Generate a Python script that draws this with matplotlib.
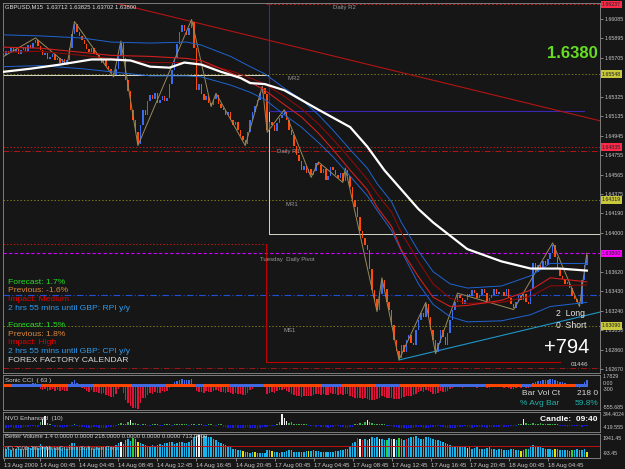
import numpy as np
import matplotlib
matplotlib.use("Agg")
import matplotlib.pyplot as plt
import matplotlib.transforms as mtrans

plt.rcParams['font.family'] = ['Liberation Sans', 'DejaVu Sans']

W, H = 625, 469
BG = '#161616'

# ---- price data (pips above 1.6000), one value per M15 bar ----
close_pips = [
    573, 577, 575, 580, 576, 579, 574, 578, 581, 577,
    583, 580, 585, 588, 582, 578, 573, 575, 569, 571,
    574, 568, 570, 566, 569, 565, 568, 580, 594, 604,
    596, 592, 588, 584, 579, 576, 580, 574, 573, 570,
    566, 568, 563, 560, 556, 554, 560, 572, 585, 570,
    549, 538, 520, 510, 498, 487, 505, 520, 515, 528,
    534, 530, 536, 527, 529, 533, 528, 531, 545, 559,
    570, 584, 596, 603, 597, 593, 600, 606, 580, 539,
    545, 535, 529, 533, 527, 525, 530, 534, 526, 522,
    520, 515, 518, 510, 505, 508, 500, 494, 490, 487,
    498, 510, 518, 524, 529, 536, 541, 535, 500, 508,
    505, 499, 507, 512, 515, 518, 510, 500, 495, 485,
    476, 470, 461, 465, 458, 462, 456, 460, 468, 466,
    458, 462, 451, 455, 464, 461, 456, 453, 458, 450,
    461, 455, 445, 432, 425, 415, 402, 395, 388, 383,
    365, 344, 335, 325, 340, 354, 345, 332, 325, 310,
    295, 285, 278, 290, 284, 295, 300, 292, 290, 305,
    315, 322, 318, 330, 318, 305, 295, 284, 292, 305,
    298, 290, 302, 315, 325, 332, 339, 336, 330, 334,
    340, 338, 344, 341, 336, 339, 345, 341, 333, 336,
    339, 345, 340, 342, 342, 338, 345, 336, 330, 327,
    332, 338, 334, 340, 332, 330, 345, 370, 362, 368,
    365, 372, 368, 374, 380, 388, 376, 365, 358, 355,
    350, 352, 346, 338, 335, 332, 330, 354, 368, 378,
]
first_open = 570

# moving averages read at a few bars
white_i = [0, 11, 23, 36, 44, 52, 60, 68, 74, 81, 89, 97, 101, 107, 115, 129, 142, 149,
           156, 163, 170, 176, 183, 190, 197, 204, 216, 228, 239]
white_p = [557, 560, 564, 569, 569, 568, 562, 561, 566, 564, 557, 551, 546, 545, 539, 520, 503, 484,
           461, 442, 423, 410, 397, 384, 378, 372, 365, 365, 363]
ma_i = [0, 15, 32, 44, 60, 75, 81, 93, 101, 107, 115, 122, 129, 135, 142, 149, 153, 159, 163,
        170, 176, 183, 190, 204, 216, 224, 239]
red_p = [581, 580, 576, 573, 572, 570, 568, 556, 547, 539, 525, 513, 497, 481, 461, 442, 425, 406, 383,
         357, 337, 328, 329, 334, 344, 356, 352]
darkred_p = [576, 577, 573, 570, 566, 566, 565, 558, 551, 545, 533, 521, 506, 491, 472, 452, 438, 420, 400,
             372, 350, 336, 331, 332, 338, 348, 349]
blue_up_p = [593, 592, 590, 586, 585, 586, 583, 572, 562, 555, 541, 530, 515, 500, 481, 463, 448, 430, 410,
             382, 362, 350, 346, 348, 358, 370, 370]
blue_lo_p = [562, 563, 560, 557, 553, 553, 552, 544, 537, 530, 515, 503, 488, 474, 455, 436, 422, 402, 382,
             350, 330, 318, 313, 314, 320, 328, 332]
zz_i = [0, 13, 26, 29, 45, 48, 55, 77, 85, 87, 99, 106, 108, 115, 126, 129, 139, 140, 153, 155,
        162, 173, 177, 186, 209, 225, 236, 239]
zz_p = [572, 590, 564, 606, 552, 587, 485, 608, 523, 536, 485, 543, 498, 520, 454, 469, 449, 463, 323, 356,
        276, 332, 282, 341, 325, 390, 328, 380]

# levels
trend_red = ([44, 244.7], [1.66251, 1.65090])
trend_teal = ([162, 244.7], [1.62758, 1.63227])
price_ticks = ["1.66085", "1.65895", "1.65705", "1.65325", "1.65135", "1.64945", "1.64755",
               "1.64565", "1.64375", "1.64190", "1.64000", "1.63620", "1.63430", "1.63240",
               "1.63050", "1.62860", "1.62670"]
price_tags = [(1.66230, "1.66237", '#ff2a4a'), (1.65548, "1.65548", '#c8c83c'),
              (1.64835, "1.64835", '#ff2a4a'), (1.64319, "1.64319", '#c8c83c'),
              (1.63800, "1.63800", '#ff00ff'), (1.63090, "1.63090", '#c8c83c')]

# ---- indicator data ----
cci = [
    -60, -40, -20, 30, -30, -50, -20, 40, 20, -30,
    20, 40, 60, 50, -40, -80, -120, -100, -140, -120,
    -90, -130, -110, -140, -120, -150, -130, -40, 80, 120,
    60, 20, -60, -100, -150, -170, -120, -160, -170, -190,
    -210, -190, -230, -260, -280, -290, -200, -80, 30, -180,
    -350, -420, -500, -540, -560, -580, -420, -300, -320, -230,
    -180, -200, -160, -190, -180, -150, -170, -150, -60, 40,
    80, 110, 140, 160, 130, 120, 140, 150, 40, -150,
    -160, -170, -180, -150, -160, -170, -140, -120, -150, -160,
    -170, -180, -170, -190, -200, -190, -210, -220, -230, -240,
    -180, -120, -80, -40, -20, 10, 30, 10, -200, -180,
    -170, -190, -150, -120, -110, -100, -130, -170, -200, -240,
    -260, -270, -290, -260, -270, -250, -260, -240, -200, -210,
    -230, -210, -240, -230, -190, -200, -220, -230, -210, -240,
    -200, -220, -260, -290, -300, -310, -320, -330, -320, -330,
    -350, -360, -350, -340, -300, -270, -280, -300, -310, -320,
    -330, -340, -340, -300, -290, -260, -250, -260, -240, -200,
    -170, -150, -160, -120, -140, -170, -200, -220, -190, -150,
    -160, -170, -130, -100, -70, -50, -40, -50, -60, -50,
    -40, -50, -30, -40, -60, -50, -40, -50, -70, -60,
    -50, -40, -50, -40, -50, -60, -40, -60, -80, -90,
    -70, -50, -60, -40, -60, -70, -20, 60, 80, 100,
    110, 120, 130, 140, 150, 160, 140, 110, 90, 70,
    50, 40, 20, -30, -40, -50, -60, 30, 80, 120,
]
strip_edges = [0, 4, 16, 27, 37, 53, 67, 79, 82, 93, 107, 131, 139, 153, 163, 179, 198, 213, 217, 235, 240]
strip_cols = ['#ff4500', '#4169e1', '#ff4500', '#4169e1', '#ff4500', '#4169e1', '#ff4500', '#4169e1',
              '#ff4500', '#4169e1', '#ff4500', '#4169e1', '#ff4500', '#4169e1', '#ff4500', '#4169e1',
              '#ff4500', '#4169e1', '#ff4500', '#4169e1']

nvo = [
    -60, -80, -90, -70, -80, -90, -100, -80, -70, -60,
    -50, -40, -30, -50, -60, 80, 180, 260, 60, 30,
    -40, -50, -60, -70, -80, -60, -50, -40, -30, 20,
    -30, -50, -60, -70, -80, -90, -80, -70, -60, -80,
    -90, -100, -80, -70, -60, -50, -40, 40, 60, 30,
    30, 80, 140, 60, 50, 20, -20, 30, 20, -30,
    -20, 20, 30, 20, -20, -30, 20, 30, 20, -20,
    20, 30, 40, 20, 30, 20, -20, 30, 20, -20,
    30, 20, -20, -30, 20, 30, -20, -20, 20, 30,
    -60, -70, -80, -90, -80, -70, -90, -100, -80, -90,
    -70, -80, -90, -100, -110, -80, -60, -70, -50, -40,
    -30, -40, 40, 90, 320, 200, 120, 60, 80, 30,
    30, 20, 40, 30, 20, -20, -30, -40, -50, -40,
    -50, -60, -70, -80, -60, -50, -40, -30, -60, -70,
    -80, -90, -70, -60, 20, 40, 60, 30, 80, 140,
    90, 60, 40, 30, 20, 30, 20, -20, -30, -40,
    -60, -70, -80, -90, -100, -110, -100, -90, -80, -70,
    -60, -70, -80, -90, -80, -70, -60, -50, -40, -60,
    -70, -80, -90, -100, -90, -80, -70, -60, -50, -40,
    -60, -70, -80, -70, -60, -50, -60, -70, -80, -70,
    -60, -70, -60, -50, -40, -50, -60, -50, -40, -30,
    -20, 30, 40, 160, 60, 30, 20, 50, 40, 30,
    60, 40, 30, 20, 40, 30, 20, 30, -20, -30,
    -40, -50, -40, -30, -20, -30, -40, -50, -40, -30,
]

bv = [
    700, 650, 800, 600, 750, 700, 820, 650, 700, 900,
    800, 750, 900, 850, 780, 1100, 950, 900, 850, 800,
    700, 750, 820, 900, 780, 850, 700, 1000, 1200, 1150,
    900, 850, 800, 900, 780, 820, 760, 700, 800, 750,
    850, 900, 800, 950, 900, 850, 1000, 1200, 1300, 1100,
    1400, 1500, 1350, 1600, 1550, 1300, 1200, 1100, 1000, 950,
    900, 1000, 950, 1050, 1100, 1000, 1150, 1200, 1300, 1250,
    1100, 1200, 1300, 1250, 1150, 1200, 1300, 1400, 1650, 1750,
    1850, 1900, 1800, 1750, 1700, 1650, 1500, 1400, 1300, 1200,
    1100, 1000, 900, 800, 700, 650, 600, 550, 500, 450,
    400, 350, 380, 420, 360, 320, 300, 350, 600, 550,
    500, 400, 380, 350, 420, 380, 500, 600, 550, 450,
    400, 380, 420, 450, 500, 480, 520, 550, 500, 480,
    450, 420, 400, 380, 420, 450, 480, 500, 550, 600,
    650, 700, 900, 1200, 1300, 1600, 1500, 1400, 1550, 1450,
    1500, 1700, 1600, 1650, 1500, 1550, 1400, 1450, 1600, 1500,
    1550, 1450, 1600, 1500, 1400, 1550, 1600, 1700, 1650, 1800,
    1600, 1550, 1500, 1650, 1700, 1600, 1500, 1450, 1400, 1350,
    1300, 1200, 1100, 1000, 900, 850, 800, 950, 850, 800,
    750, 800, 700, 750, 800, 700, 650, 700, 750, 800,
    700, 650, 600, 700, 650, 600, 550, 600, 700, 650,
    600, 550, 500, 600, 650, 700, 900, 1000, 900, 850,
    800, 750, 700, 650, 700, 600, 650, 700, 600, 550,
    600, 550, 500, 600, 550, 650, 600, 550, 700, 450,
]
bv_white = [16, 18, 48, 79, 80, 146, 150, 154, 160]
bv_yellow = [55, 98, 103, 110, 125, 190, 212, 226, 239]
bv_green = [53, 54, 157, 162, 214, 233]
bv_red = [145, 147, 165]

date_i = [0, 15, 31, 47, 63, 79, 95, 111, 127, 143, 159, 175, 191, 207, 223]
date_lbl = ["13 Aug 2009", "14 Aug 00:45", "14 Aug 04:45", "14 Aug 08:45", "14 Aug 12:45",
            "14 Aug 16:45", "14 Aug 20:45", "17 Aug 00:45", "17 Aug 04:45", "17 Aug 08:45",
            "17 Aug 12:45", "17 Aug 16:45", "17 Aug 20:45", "18 Aug 00:45", "18 Aug 04:45"]


def px(v):
    return 1.6 + np.asarray(v, dtype=float) / 10000


fig = plt.figure(figsize=(W / 100, H / 100), dpi=100, facecolor=BG)


def panel(top, bottom):
    a = fig.add_axes([3 / W, 1 - bottom / H, 597 / W, (bottom - top) / H], facecolor=BG)
    a.set_xlim(-0.3, 244.4)
    for s in a.spines.values():
        s.set_color('#8c8c8c')
        s.set_linewidth(0.6)
    a.tick_params(left=False, labelleft=False, bottom=False, labelbottom=False)
    return a


def ftext(x, y, s, **kw):
    kw.setdefault('va', 'center')
    fig.text(x / W, 1 - y / H, s, **kw)


ax = panel(3, 373)
ax_cci = panel(375, 410)
ax_nvo = panel(412, 432)
ax_bv = panel(434, 458)

# ---- main chart ----
n = len(close_pips)
xi = np.arange(n)
c = px(close_pips)
o = np.r_[px(first_open), c[:-1]]
up = c >= o
body = np.where(np.abs(c - o) < 0.00003, 0.00003, c - o)
ax.bar(xi, body, bottom=o, width=0.6, color=np.where(up, '#3a6cf0', '#ff4a0a'), zorder=3)

ax.set_ylim(1.62631, 1.66241)
ax.axhline(1.66230, xmin=0.44, xmax=1, color='#c01818', lw=0.7, ls=(0, (2, 2)), zorder=1)
ax.axhline(1.65548, color='#7a7a1a', lw=0.7, ls=(0, (1.5, 2)), zorder=1)
ax.axhline(1.64835, color='#c01818', lw=0.7, ls=(0, (1.5, 2)), zorder=1)
ax.axhline(1.64797, color='#b01818', lw=0.7, ls=(0, (6, 2, 1, 2)), zorder=1)
ax.axhline(1.64319, color='#7a7a1a', lw=0.7, ls=(0, (1.5, 2)), zorder=1)
ax.axhline(1.63800, color='#d000ff', lw=0.8, ls=(0, (3, 2)), zorder=1)
ax.axhline(1.63392, color='#1f50d8', lw=0.8, ls=(0, (6, 2, 1, 2)), zorder=1)
ax.axhline(1.63090, color='#7a7a1a', lw=0.7, ls=(0, (1.5, 2)), zorder=1)
ax.axhline(1.62680, color='#a01818', lw=0.7, ls=(0, (6, 2, 1, 2)), zorder=1)

# daily step levels
ax.plot([-0.3, 107.4, 107.4, 108.6, 108.6, 244.4],
        [1.65539, 1.65539, 1.65539, 1.65539, 1.63985, 1.63985], color='#d8d8c8', lw=0.7, zorder=2)
ax.plot([-0.3, 107.4], [1.63890, 1.63890], color='#c01818', lw=0.7, ls=(0, (1.5, 2)), zorder=1)
ax.plot([107.4, 107.4, 228], [1.63890, 1.62739, 1.62739], color='#c00000', lw=0.8, zorder=2)
ax.plot([108.6, 108.6, 238], [1.66241, 1.65187, 1.65187], color='#3a28b4', lw=0.8, zorder=2)

ax.plot(*trend_red, color='#b41414', lw=0.8, zorder=2)
ax.plot(*trend_teal, color='#1e96c8', lw=0.8, zorder=2)

ax.plot(zz_i, px(zz_p), color='#9a8a5a', lw=0.7, zorder=4)
ax.plot(ma_i, px(blue_up_p), color='#1e64d2', lw=0.7, zorder=4)
ax.plot(ma_i, px(blue_lo_p), color='#1e64d2', lw=0.7, zorder=4)
ax.plot(ma_i, px(darkred_p), color='#8c0a0a', lw=0.8, zorder=4)
ax.plot(ma_i, px(red_p), color='#d21e1e', lw=0.8, zorder=4)
ax.plot(white_i, px(white_p), color='white', lw=1.6, zorder=5)

# right price scale
ax.yaxis.tick_right()
ax.set_yticks([float(t) for t in price_ticks])
ax.set_yticklabels(price_ticks)
ax.tick_params(axis='y', right=True, labelright=True, length=2, width=0.5, color='#b0b0b0',
               labelsize=3.8, labelcolor='#c8c8c8', pad=1.5)
tr = mtrans.blended_transform_factory(ax.transAxes, ax.transData)
for val, lab, col in price_tags:
    ax.text(1.003, val, lab, transform=tr, fontsize=3.8, color='#202020', va='center', ha='left',
            bbox=dict(facecolor=col, edgecolor='none', pad=0.8), zorder=10, clip_on=False)

# texts on the main chart
ftext(5, 7, "GBPUSD,M15  1.63712 1.63825 1.63702 1.63800", fontsize=4.2, color='#e0e0e0')
ftext(333, 8, "Daily R2", fontsize=4.3, color='#9a9a9a')
ftext(288, 78, "MR2", fontsize=4.3, color='#9a9a9a')
ftext(277, 151, "Daily R1", fontsize=4.3, color='#9a9a9a')
ftext(285, 204, "MR1", fontsize=4.3, color='#9a9a9a')
ftext(260, 259, "Tuesday  Daily Pivot", fontsize=4.3, color='#9a9a9a')
ftext(283, 330, "MS1", fontsize=4.3, color='#9a9a9a')
ftext(598, 54, "1.6380", fontsize=12, color='#66dd22', fontweight='bold', ha='right')

news = [("Forecast: 1.7%", '#22dd22'), ("Previous: -1.6%", '#d8883c'), ("Impact: Medium", '#e00000'),
        ("2 hrs 55 mins until GBP: RPI y/y", '#2e9cf0'), ("", None),
        ("Forecast: 1.5%", '#22dd22'), ("Previous: 1.8%", '#d8883c'), ("Impact: High", '#e00000'),
        ("2 hrs 55 mins until GBP: CPI y/y", '#2e9cf0'), ("FOREX FACTORY CALENDAR", '#d8d8d8')]
for k, (s, col) in enumerate(news):
    if s:
        ftext(8, 282 + k * 8.7, s, fontsize=6.1, color=col)

ftext(556, 314, "2  Long", fontsize=6.2, color='#e8e8e8')
ftext(556, 325, "0  Short", fontsize=6.2, color='#e8e8e8')
ftext(589, 347, "+794", fontsize=14.5, color='white', ha='right')
ftext(588, 365, "01446", fontsize=4.5, color='#d0d0d0', ha='right')

# ---- Sonic CCI ----
cci_a = np.array(cci)
ax_cci.set_ylim(-600, 250)
ax_cci.bar(xi, cci_a, width=0.6, color=np.where(cci_a < 0, '#dc143c', '#4169e1'), zorder=2)
for k, col in enumerate(strip_cols):
    s0, s1 = strip_edges[k], strip_edges[k + 1]
    ax_cci.bar(np.arange(s0, s1), 60, bottom=-30, width=1.0, color=col, zorder=3)
ftext(5, 380, "Sonic CCI  ( 63 )", fontsize=4.5, color='#d0d0d0')
ftext(522, 393, "Bar Vol Ct", fontsize=6, color='#d8d8d8')
ftext(598, 393, "218 0", fontsize=6, color='#d8d8d8', ha='right')
ftext(520, 403, "% Avg Bar", fontsize=6, color='#20b2aa')
ftext(598, 403, "59.8%", fontsize=6, color='#20b2aa', ha='right')

# ---- NVO ----
nvo_a = np.array(nvo)
ax_nvo.set_ylim(-200, 370)
nvo_col = np.where(nvo_a < 0, '#1e1ed2', np.where(nvo_a >= 100, '#f0f0f0', '#3cb44b'))
ax_nvo.bar(xi, nvo_a, width=0.6, color=nvo_col, zorder=2)
ftext(5, 418, "NVO Enhanced  (10)", fontsize=4.5, color='#d0d0d0')
ftext(598, 419, "Candle:  09:40", fontsize=6, color='white', fontweight='bold', ha='right')

# ---- Better Volume ----
bv_col = np.array(['#18b4ec'] * n, dtype=object)
bv_col[bv_white] = '#f4f4f4'
bv_col[bv_yellow] = '#f0e000'
bv_col[bv_green] = '#30d030'
bv_col[bv_red] = '#e02020'
ax_bv.set_ylim(-93.45, 1941.45)
ax_bv.bar(xi, bv, width=0.6, color=list(bv_col), zorder=2)
ax_bv.axhline(930, color='#c01010', lw=0.7, zorder=3)
ftext(5, 437, "Better Volume 1.4 0.0000 0.0000 218.0000 0.0000 0.0000 0.0000 713.0000",
      fontsize=4.3, color='#d0d0d0')
ftext(5, 448, "(C) 2001-2009 MetaQuotes Software Corp.", fontsize=4.3, color='#b0b0b0')

# dates
ax_bv.set_xticks(date_i)
ax_bv.set_xticklabels(date_lbl, ha='left')
ax_bv.tick_params(axis='x', bottom=True, labelbottom=True, length=2, width=0.5, color='#b0b0b0',
                  labelsize=4.3, labelcolor='#c8c8c8', pad=1.5)

# sub-window scales
for y, s in [(376, "1.7829"), (383, "0.00"), (389, "-300"), (407, "-555.685"),
             (414, "344.4024"), (427, "-419.555"), (438, "1941.45"), (453, "-93.45")]:
    ftext(603, y, s, fontsize=3.8, color='#c8c8c8')

fig.savefig("out.png", dpi=100, facecolor=BG)
